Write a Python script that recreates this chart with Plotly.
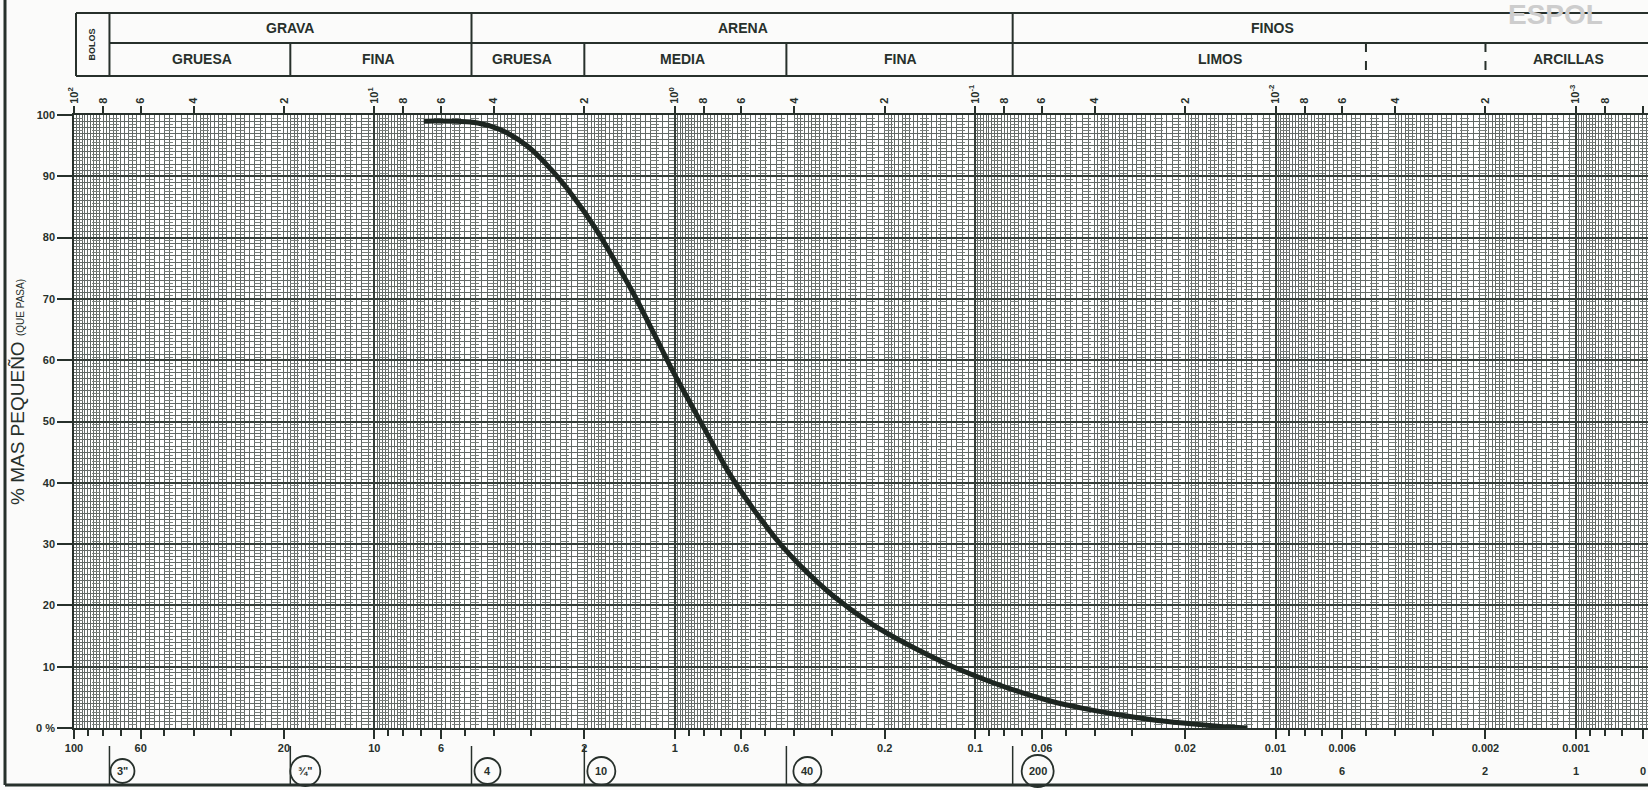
import numpy as np
import plotly.graph_objects as go

# ---------------- data ----------------
diam_mm = [6.85, 4.53, 3.80, 3.09, 2.59, 2.17, 1.86, 1.60, 1.37, 1.18, 1.01, 0.906,
           0.778, 0.652, 0.547, 0.445, 0.361, 0.296, 0.220, 0.172, 0.121, 0.094,
           0.0724, 0.0562, 0.0437, 0.0337, 0.0261, 0.0203, 0.0156, 0.0124]
pct_pass = [99.0, 98.7, 97.6, 94.9, 91.2, 86.6, 81.9, 76.6, 70.8, 64.6, 58.0, 53.8,
            47.9, 41.2, 35.7, 30.0, 25.3, 21.5, 16.9, 13.9, 10.2, 8.0,
            6.0, 4.4, 3.2, 2.2, 1.4, 0.8, 0.3, 0.0]

bottom_vals = [100, 60, 20, 10, 6, 2, 1, 0.6, 0.2, 0.1, 0.06, 0.02, 0.01, 0.006, 0.002, 0.001, 0.0006]
bottom_text = ["100", "60", "20", "10", "6", "2", "1", "0.6", "0.2", "0.1", "0.06", "0.02",
               "0.01", "0.006", "0.002", "0.001", "0.0006"]
micron_vals = [0.01, 0.006, 0.002, 0.001, 0.0006]
micron_text = ["10", "6", "2", "1", "0"]

top_decades = [2, 1, 0, -1, -2, -3]
top_mults = [1, 0.8, 0.6, 0.4, 0.2]
top_mult_text = ["", "8", "6", "4", "2"]

y_vals = [0, 10, 20, 30, 40, 50, 60, 70, 80, 90, 100]
y_text = ["0 %", "10", "20", "30", "40", "50", "60", "70", "80", "90", "100"]

sieve_size = [76.2, 19.05, 4.75, 2.0, 0.425, 0.075]
sieve_text = ['3"', '¾"', "4", "10", "40", "200"]

# header boundaries (mm)
hdr_full = [76.2, 4.75, 0.075]          # lines through both rows
hdr_lower = [19.05, 2.0, 0.425]         # lines in lower row only
hdr_dashed = [0.005, 0.002]             # dashed lines in lower row
hdr_top_labels = ["GRAVA", "ARENA", "FINOS"]
hdr_top_x = [290, 743, 1272]
hdr_low_labels = ["GRUESA", "FINA", "GRUESA", "MEDIA", "FINA", "LIMOS", "ARCILLAS"]
hdr_low_x = [202, 378, 522, 682, 900, 1220, 1568]

# ---------------- geometry / style ----------------
W, H = 1648, 790
def px(xp):
    return xp / W
def py(yp):
    return (H - yp) / H

ink = "#27302b"
grid_major = "#353e39"
grid_minor = "#626966"
grid_dash = "#7a817d"
font_fam = "Liberation Sans, Arial, sans-serif"

xdom = [px(74), 1.0]
ydom = [py(728), py(115)]
xrange_log = [2, -3.24]

# dense chart-paper vertical grid (per decade subdivisions)
sub = ([1 + 0.05 * i for i in range(1, 20)] + [2 + 0.1 * i for i in range(0, 20)]
       + [4 + 0.2 * i for i in range(0, 30)])
minor_x = [m * 10.0 ** k for k in range(-4, 2) for m in sub]
minor_tick_x = [m * 10.0 ** k for k in range(-4, 2) for m in range(2, 10)]

top_vals = [m * 10.0 ** k for k in top_decades for m in top_mults]
top_text = [("10<sup>%d</sup>" % k if m == 1 else t) for k in top_decades
            for m, t in zip(top_mults, top_mult_text)]

fig = go.Figure()

# invisible helper traces so every overlay axis is registered
for xa, ya in [("x", "y"), ("x2", "y"), ("x", "y2")]:
    fig.add_trace(go.Scatter(x=diam_mm, y=pct_pass, xaxis=xa, yaxis=ya, mode="lines",
                             line=dict(width=0, color="rgba(0,0,0,0)"),
                             hoverinfo="skip", showlegend=False))

# the grain-size curve (on the grid axis so it sits on top of the grid)
fig.add_trace(go.Scatter(x=diam_mm, y=pct_pass, xaxis="x3", yaxis="y", mode="lines",
                         line=dict(color="#1d2621", width=5, shape="spline", smoothing=1.0),
                         showlegend=False))

tick_font = dict(family=font_fam, size=11, color=ink, weight="bold")
fig.update_layout(
    width=W, height=H,
    margin=dict(l=0, r=0, t=0, b=0, autoexpand=False),
    paper_bgcolor="#fbfbfa",
    plot_bgcolor="#ffffff",
    showlegend=False,
    xaxis=dict(type="log", domain=xdom, range=xrange_log, anchor="y", automargin=False,
               tickmode="array", tickvals=bottom_vals, ticktext=bottom_text,
               ticks="outside", ticklen=9, tickwidth=1.5, tickcolor=ink, tickfont=tick_font,
               showgrid=False, zeroline=False, showline=True, linecolor=ink, linewidth=2,
               minor=dict(tickmode="array", tickvals=minor_tick_x, ticks="outside",
                          ticklen=6, tickcolor=ink, showgrid=False)),
    xaxis2=dict(type="log", domain=xdom, range=xrange_log, anchor="y", overlaying="x",
                side="top", automargin=False, tickmode="array", tickvals=top_vals,
                ticktext=top_text, tickangle=-90, ticks="outside", ticklen=7, tickwidth=1.5,
                tickcolor=ink, tickfont=tick_font,
                showgrid=False, zeroline=False, showline=True, linecolor=ink, linewidth=2),
    xaxis3=dict(type="log", domain=xdom, range=xrange_log, anchor="y", overlaying="x",
                automargin=False, tickmode="array", tickvals=[1e-3, 1e-2, 1e-1, 1, 10, 100],
                showticklabels=False, ticks="", showgrid=True, gridcolor=grid_major,
                gridwidth=2, zeroline=False,
                minor=dict(tickmode="array", tickvals=minor_x, showgrid=True,
                           gridcolor=grid_minor, gridwidth=1, ticks="")),
    yaxis=dict(domain=ydom, range=[0, 100], anchor="x", automargin=False,
               tickmode="array", tickvals=y_vals, ticktext=y_text,
               ticks="outside", ticklen=15, tickwidth=1.5, tickcolor=ink, tickfont=tick_font,
               showgrid=True, gridcolor=grid_major, gridwidth=1.6, zeroline=False,
               showline=True, linecolor=ink, linewidth=1.5,
               minor=dict(dtick=1, showgrid=True, gridcolor=grid_minor, gridwidth=1)),
    yaxis2=dict(domain=ydom, range=[0, 100], anchor="x", overlaying="y", automargin=False,
                tickmode="linear", tick0=0.5, dtick=1, showticklabels=False, ticks="",
                showgrid=True, gridcolor=grid_dash, gridwidth=1, griddash="dash",
                zeroline=False, showline=False),
)

shapes = []
# outer frame (left and bottom edges of the scanned sheet)
shapes.append(dict(type="line", xref="paper", yref="paper", x0=px(5), x1=px(5), y0=py(0), y1=py(785),
                   line=dict(color=ink, width=3)))
shapes.append(dict(type="line", xref="paper", yref="paper", x0=px(5), x1=1, y0=py(785), y1=py(785),
                   line=dict(color=ink, width=3)))

# header table
y_top, y_mid, y_bot = py(13), py(43), py(76)
for yy, x_start in [(y_top, 76), (y_bot, 76)]:
    shapes.append(dict(type="line", xref="paper", yref="paper", x0=px(x_start), x1=1, y0=yy, y1=yy,
                       line=dict(color=ink, width=2)))
shapes.append(dict(type="line", xref="x", yref="paper", x0=76.2, x1=1e-4, y0=y_mid, y1=y_mid,
                   line=dict(color=ink, width=2)))
shapes.append(dict(type="line", xref="paper", yref="paper", x0=px(76), x1=px(76), y0=y_top, y1=y_bot,
                   line=dict(color=ink, width=2)))
for s in hdr_full:
    shapes.append(dict(type="line", xref="x", yref="paper", x0=s, x1=s, y0=y_top, y1=y_bot,
                       line=dict(color=ink, width=2)))
for s in hdr_lower:
    shapes.append(dict(type="line", xref="x", yref="paper", x0=s, x1=s, y0=y_mid, y1=y_bot,
                       line=dict(color=ink, width=2)))
for s in hdr_dashed:
    shapes.append(dict(type="line", xref="x", yref="paper", x0=s, x1=s, y0=y_mid, y1=y_bot,
                       line=dict(color=ink, width=2, dash="dash")))

# sieve markers: bar at the sieve opening + circled sieve designation
circle_dx = [13, 15, 16, 17, 21, 25]
circle_d = [24, 30, 26, 28, 28, 32]
for s, dx, d in zip(sieve_size, circle_dx, circle_d):
    shapes.append(dict(type="line", xref="x", yref="paper", x0=s, x1=s, y0=py(746), y1=py(785),
                       line=dict(color=ink, width=1.5)))
    shapes.append(dict(type="circle", xref="x", yref="paper", xsizemode="pixel", ysizemode="pixel",
                       xanchor=s, yanchor=py(771), x0=dx - d / 2, x1=dx + d / 2, y0=-d / 2, y1=d / 2,
                       line=dict(color=ink, width=1.8)))
fig.update_layout(shapes=shapes)

ann = []
mid = dict(xanchor="center", yanchor="middle", showarrow=False)
for s, t, dx in zip(sieve_size, sieve_text, circle_dx):
    ann.append(dict(xref="x", yref="paper", x=np.log10(s), y=py(771), xshift=dx, text=t,
                    font=dict(family=font_fam, size=11, color=ink, weight="bold"), **mid))
for v, t in zip(micron_vals, micron_text):
    ann.append(dict(xref="x", yref="paper", x=np.log10(v), y=py(771), text=t,
                    font=dict(family=font_fam, size=11, color=ink, weight="bold"), **mid))
for t, xx in zip(hdr_top_labels, hdr_top_x):
    ann.append(dict(xref="paper", yref="paper", x=px(xx), y=(y_top + y_mid) / 2, text=t,
                    font=dict(family=font_fam, size=14, color=ink, weight="bold"), **mid))
for t, xx in zip(hdr_low_labels, hdr_low_x):
    ann.append(dict(xref="paper", yref="paper", x=px(xx), y=(y_mid + y_bot) / 2, text=t,
                    font=dict(family=font_fam, size=14, color=ink, weight="bold"), **mid))
ann.append(dict(xref="paper", yref="paper", x=px(92), y=(y_top + y_bot) / 2, text="BOLOS",
                textangle=-90, font=dict(family=font_fam, size=9, color=ink, weight="bold"), **mid))
ann.append(dict(xref="paper", yref="paper", x=px(17), y=py(392), textangle=-90,
                text="% MAS PEQUEÑO <span style='font-size:10px'>(QUE PASA)</span>",
                font=dict(family=font_fam, size=19, color=ink), **mid))
ann.append(dict(xref="paper", yref="paper", x=px(1555), y=py(15), text="ESPOL",
                font=dict(family=font_fam, size=28, color="#cdcdcd", weight="bold"), **mid))
fig.update_layout(annotations=ann)

fig.write_html("out.html", config={"displayModeBar": False},
               post_script="document.body.style.margin='0px';")
